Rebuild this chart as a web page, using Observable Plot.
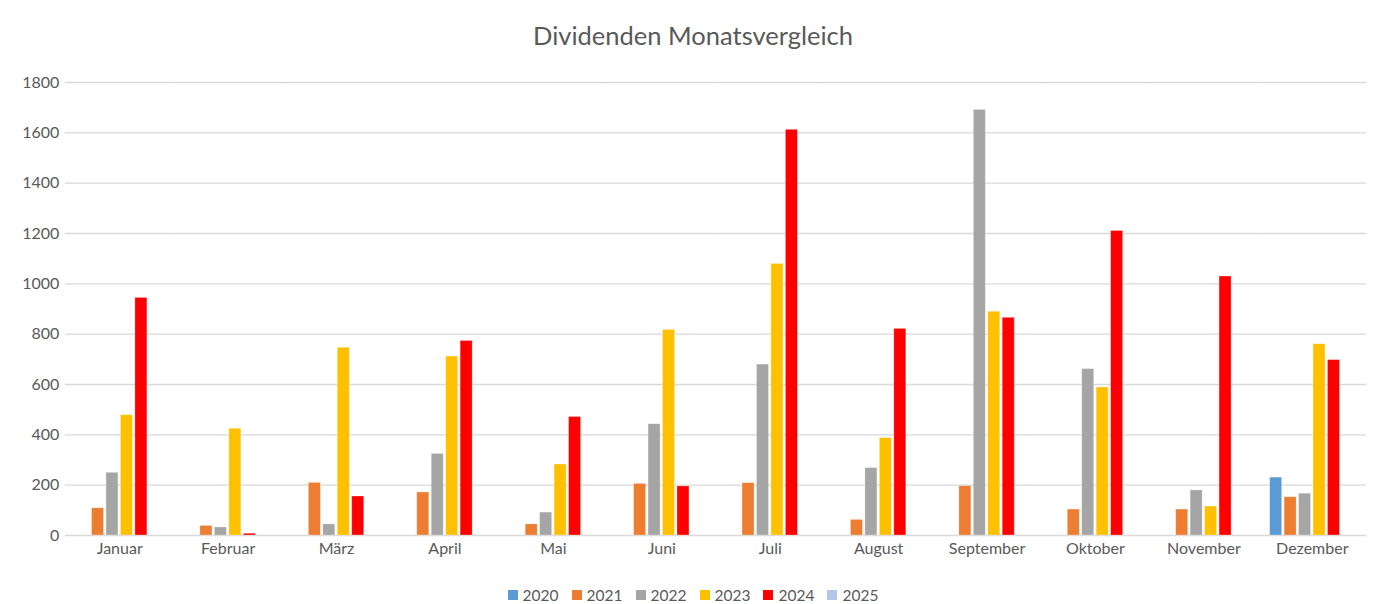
<!DOCTYPE html>
<html>
<head>
<meta charset="utf-8">
<script src="https://cdn.jsdelivr.net/npm/d3@7"></script>
<script src="https://cdn.jsdelivr.net/npm/@observablehq/plot@0.6"></script>
<style>
  html, body { margin: 0; padding: 0; background: #fff; }
  body { width: 1386px; height: 604px; overflow: hidden; font-family: Lato, "Open Sans", sans-serif; color: #595959; }
  #title { height: 60px; text-align: center; font-size: 25.5px; color: #595959; }
  #title span { display: inline-block; line-height: 1; margin-top: 23px; }
  #legend { display: flex; justify-content: center; gap: 13px; margin-top: 18px; height: 24px; align-items: center; font-size: 15.5px; }
  #legend .item { display: flex; align-items: center; gap: 5px; }
  #legend .sw { width: 10px; height: 10px; display: inline-block; }
</style>
</head>
<body>
<div id="title"><span>Dividenden Monatsvergleich</span></div>
<div id="chart"></div>
<div id="legend"></div>
<script>
const months = ["Januar","Februar","März","April","Mai","Juni","Juli","August","September","Oktober","November","Dezember"];
const years = ["2020","2021","2022","2023","2024","2025"];
const colors = ["#5B9BD5","#ED7D31","#A5A5A5","#FFC000","#FF0000","#B4C6E7"];
const v2020 = [null, null, null, null, null, null, null, null, null, null, null, 230];
const v2021 = [108, 38, 209, 171, 44, 205, 208, 62, 196, 103, 103, 152];
const v2022 = [249, 32, 44, 324, 91, 442, 679, 268, 1691, 661, 179, 166];
const v2023 = [478, 424, 746, 711, 282, 817, 1079, 387, 889, 588, 115, 760];
const v2024 = [944, 7, 155, 773, 471, 195, 1612, 821, 865, 1210, 1029, 697];
const v2025 = [null, null, null, null, null, null, null, null, null, null, null, null];
const yTicks = [0, 200, 400, 600, 800, 1000, 1200, 1400, 1600, 1800];

const series = [v2020, v2021, v2022, v2023, v2024, v2025];
const data = [];
months.forEach((m, i) => {
  years.forEach((yr, j) => {
    const v = series[j][i];
    if (v != null) data.push({month: m, year: yr, value: v});
  });
});

const chart = Plot.plot({
  width: 1386,
  height: 505,
  marginLeft: 65,
  marginRight: 20,
  marginTop: 22,
  marginBottom: 30,
  style: {fontFamily: "Lato, 'Open Sans', sans-serif", fontSize: "16px", color: "#595959", background: "#fff"},
  fx: {domain: months, paddingInner: 0.2, paddingOuter: 0.1, round: false, label: null},
  x: {domain: years, paddingInner: 0.17, paddingOuter: 0.085, round: false, axis: null},
  y: {domain: [0, 1800], label: null},
  color: {domain: years, range: colors},
  marks: [
    Plot.ruleY(yTicks, {y: d => d, stroke: "#d9d9d9", strokeWidth: 1.3, insetLeft: -11, insetRight: -11}),
    Plot.barY(data, {fx: "month", x: "year", y: "value", fill: "year", stroke: "#ffffff", strokeOpacity: 0.35, strokeWidth: 0.8}),
    Plot.axisY(yTicks, {tickSize: 0, tickPadding: 17, tickFormat: d => String(d), label: null, fill: "#595959", fontSize: 16}),
    Plot.axisFx({anchor: "bottom", tickSize: 0, tickPadding: 7, label: null, fill: "#595959", fontSize: 16})
  ]
});
document.getElementById("chart").appendChild(chart);

const legend = document.getElementById("legend");
years.forEach((yr, j) => {
  const it = document.createElement("div");
  it.className = "item";
  it.innerHTML = `<span class="sw" style="background:${colors[j]}"></span><span>${yr}</span>`;
  legend.appendChild(it);
});
</script>
</body>
</html>
